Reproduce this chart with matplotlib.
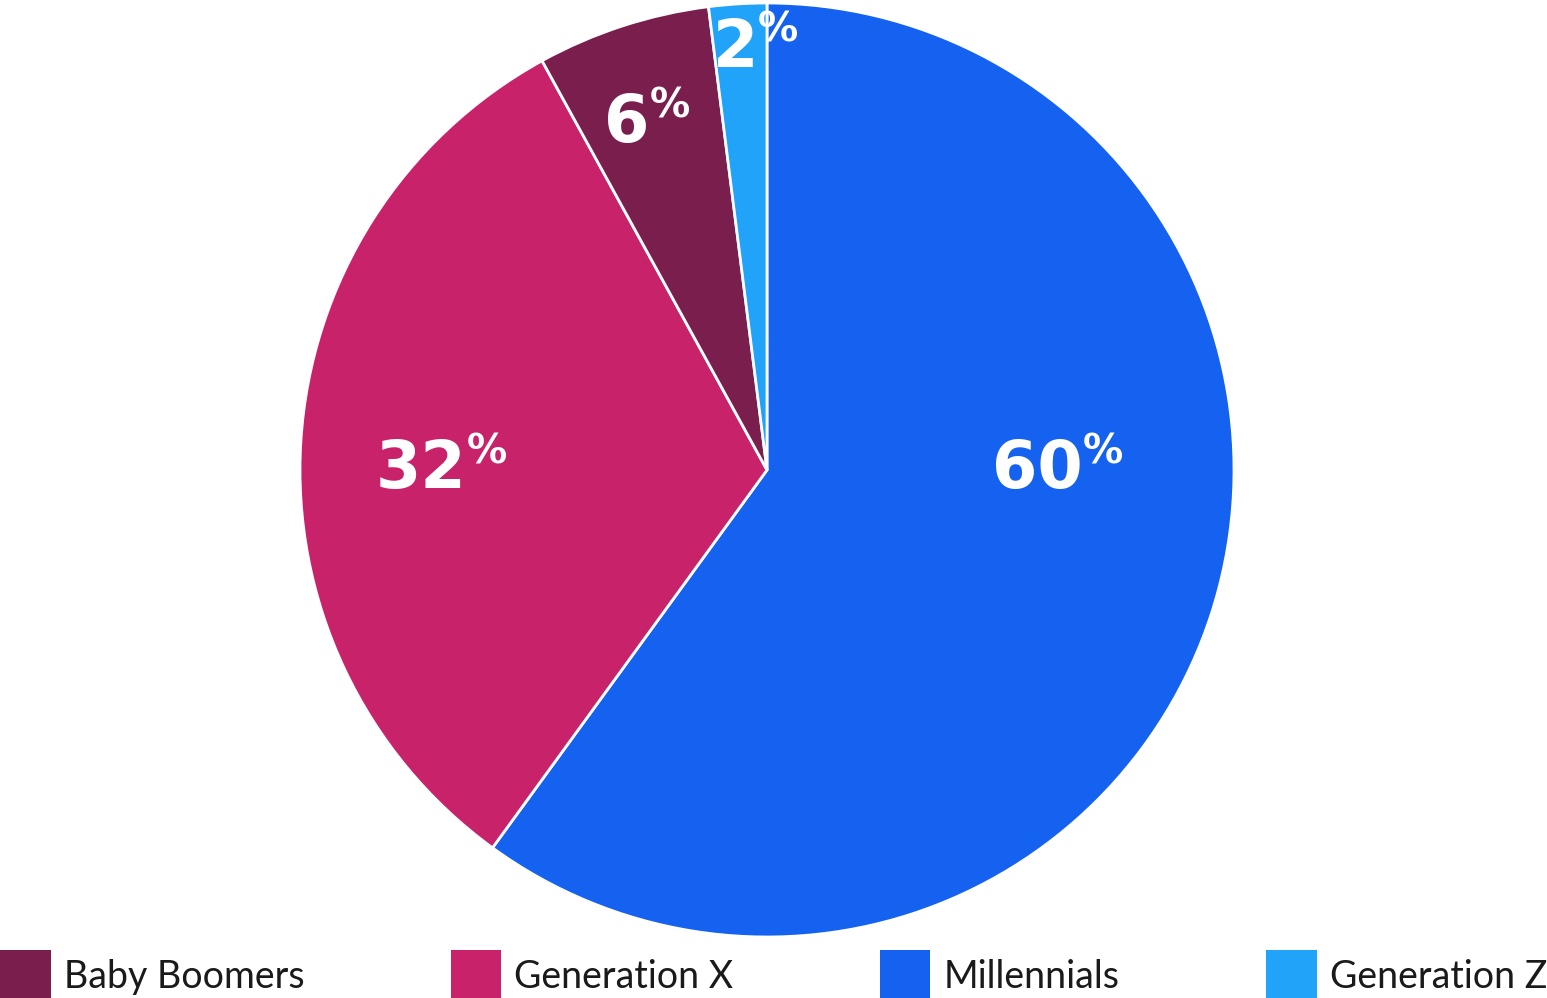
import numpy as np
import matplotlib.pyplot as plt
from matplotlib.patches import Patch

# Data (clockwise from 12 o'clock)
groups = ['Millennials', 'Generation X', 'Baby Boomers', 'Generation Z']
shares = [60, 32, 6, 2]
colors = ['#1562F1', '#C8226A', '#7A1E4E', '#20A3F9']
legend_order = ['Baby Boomers', 'Generation X', 'Millennials', 'Generation Z']

# label placement (angle in degrees, radius as fraction of pie radius)
label_angle = [0, 180, 112, 94.3]
label_radius = [0.58, 0.74, 0.80, 0.905]

plt.rcParams['font.family'] = ['Lato', 'DejaVu Sans']

fig = plt.figure(figsize=(15.47, 9.98), dpi=100)
W, H = 1547, 998
cx, cy, r = 767, 470, 467
ax = fig.add_axes([(cx - r) / W, (H - cy - r) / H, 2 * r / W, 2 * r / H])

wedges, _ = ax.pie(shares, colors=colors, startangle=90, counterclock=False,
                   radius=1, wedgeprops=dict(edgecolor='white', linewidth=2))
ax.set_xlim(-1, 1)
ax.set_ylim(-1, 1)
ax.set_aspect('equal')
ax.axis('off')

for val, ang, rad in zip(shares, label_angle, label_radius):
    x = rad * np.cos(np.radians(ang))
    y = rad * np.sin(np.radians(ang))
    t = ax.text(x, y, str(val), ha='center', va='center', color='white',
                fontsize=47, fontweight='bold', family='DejaVu Sans')
    ax.annotate('%', xy=(1.0, 1.0), xycoords=t, xytext=(0, 4),
                textcoords='offset points', ha='left', va='top',
                color='white', fontsize=29, fontweight='bold', family='DejaVu Sans')

color_of = dict(zip(groups, colors))
handles = [Patch(facecolor=color_of[g], edgecolor='none') for g in legend_order]
fig.legend(handles, legend_order, loc='lower left', bbox_to_anchor=(0.0, -0.004, 1.0, 0.1),
           ncol=4, mode='expand', frameon=False, fontsize=27, borderpad=0,
           borderaxespad=0, handlelength=1.35, handleheight=1.75, handletextpad=0.35,
           labelcolor='#1a1a1a')

fig.savefig('out.png', dpi=100)
